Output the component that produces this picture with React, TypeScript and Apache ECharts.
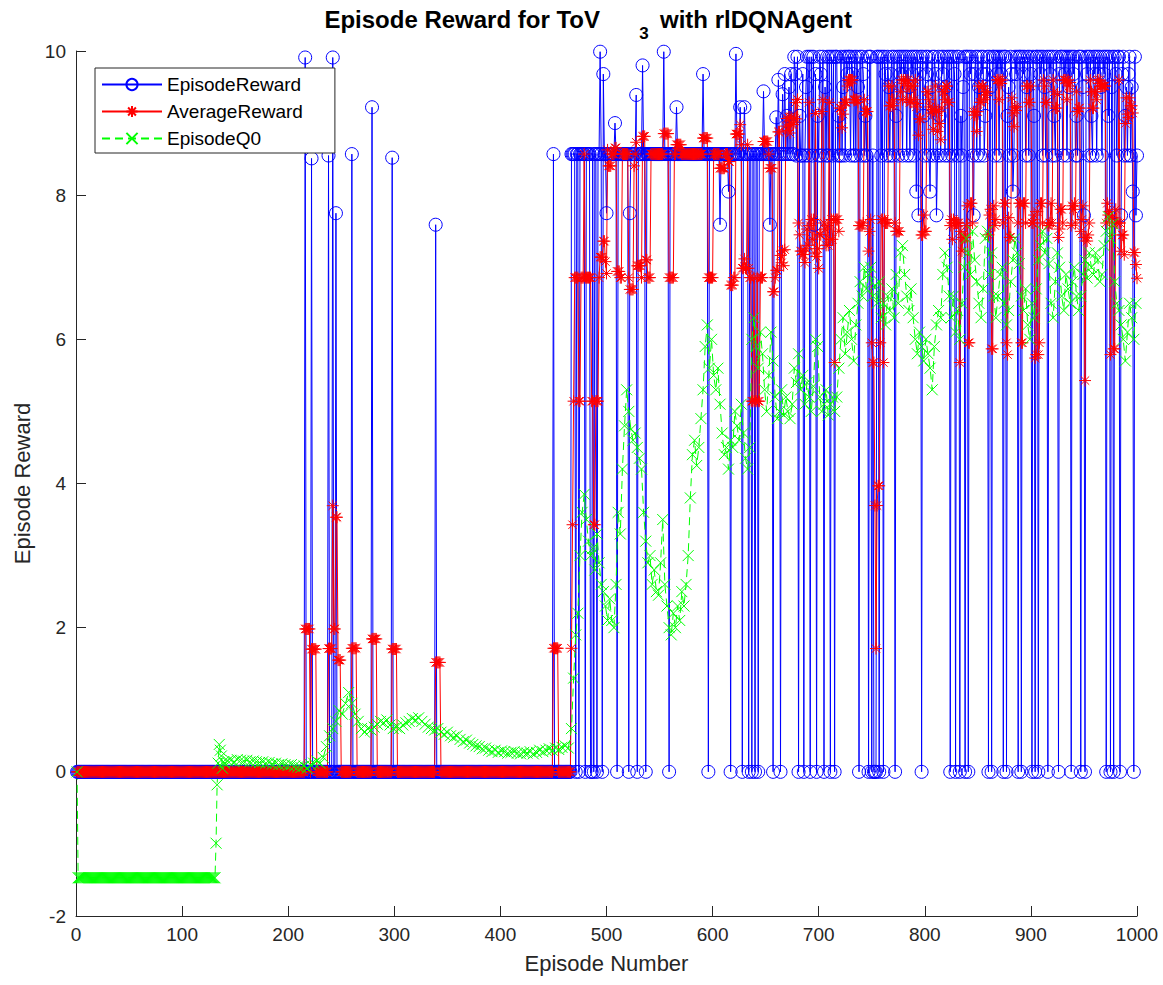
import React, { useEffect, useRef } from "react";
import * as echarts from "echarts";

const EPISODES = 1000;

// EpisodeReward held at one level over a range of episodes: [first, last, reward]
const rewardLevels: [number, number, number][] = [
  [1, 466, 0],
  [467, 676, 8.57],
  [677, 1000, 9.92],
];

// single episodes whose reward stands apart from the level around them
const rewardSpikes: [number, number][] = [
  [216, 9.91], [222, 8.51], [238, 8.55], [242, 9.91], [245, 7.75],
  [260, 8.57], [279, 9.22], [298, 8.52], [339, 7.59], [450, 8.57],
  [494, 9.99], [497, 9.68], [500, 7.75], [508, 9.0], [522, 7.75],
  [528, 9.39], [534, 9.8], [554, 9.99], [566, 9.22], [591, 9.68],
  [607, 7.59], [615, 8.05], [622, 9.96], [626, 9.22], [630, 9.22],
  [648, 9.44], [654, 7.59], [660, 9.08], [662, 9.6], [666, 9.4],
  [668, 9.68], [670, 9.1], [672, 9.5], [674, 9.68], [696, 7.59],
];

// episodes of the late phase grouped by the reward they reached
const reward855 = [
  679, 683, 684, 687, 690, 694, 700, 703, 707, 709, 713, 718, 720, 722, 725, 730, 733, 735,
  740, 743, 745, 751, 759, 764, 767, 770, 775, 779, 783, 786, 790, 800, 804, 808, 812, 815,
  819, 822, 826, 831, 835, 845, 849, 852, 856, 866, 870, 880, 884, 895, 898, 911, 914, 920,
  923, 930, 934, 942, 944, 955, 958, 962, 967, 981, 988, 991, 994, 1000,
];
const reward968 = [
  678, 685, 697, 702, 727, 732, 742, 763, 768, 777, 781, 788, 795, 802, 810, 817, 828, 843,
  847, 854, 858, 868, 872, 882, 886, 893, 900, 909, 918, 927, 932, 940, 953, 960, 964, 969,
  980, 986, 992,
];
const reward950 = [
  688, 706, 723, 737, 766, 785, 806, 820, 836, 851, 862, 879, 896, 913, 925, 936, 949, 966,
  976, 990, 995,
];
const reward910 = [682, 699, 719, 744, 773, 799, 814, 834, 857, 878, 903, 922, 943, 957, 973, 989];
const reward805 = [792, 805, 883, 996];
const reward772 = [794, 811, 846, 950, 985, 999];

// episodes that ended with zero reward once the agent had started to succeed
const failedEpisodes = [
  471, 474, 480, 485, 486, 488, 491, 496, 510, 521, 529, 537, 559, 596, 617, 628, 634, 637,
  640, 643, 657, 664, 681, 686, 692, 698, 705, 711, 715, 738, 747, 750, 752, 753, 754, 757,
  761, 772, 797, 824, 829, 833, 838, 841, 860, 863, 874, 877, 888, 891, 901, 904, 907, 916,
  926, 938, 947, 951, 971, 975, 978, 984, 997,
];

// AverageReward is the trailing mean over this many episodes
const AVERAGE_WINDOW = 5;

// EpisodeQ0 held at one level: [first, last, q0]
const q0Levels: [number, number, number][] = [[2, 131, -1.47]];
// EpisodeQ0 for single episodes around the first jump
const q0Points: [number, number][] = [
  [1, 0], [132, -0.99], [133, -0.18], [134, 0.12], [135, 0.38], [136, 0.3],
  [137, 0.22], [138, 0.05], [139, 0.14],
];
// EpisodeQ0 during the quiet phase, one value every 3 episodes from episode 140
const q0QuietStart = 140;
const q0QuietStep = 3;
const q0Quiet = [
  0.12, 0.15, 0.16, 0.14, 0.17, 0.16, 0.15, 0.16, 0.14, 0.15,
  0.14, 0.13, 0.14, 0.12, 0.13, 0.11, 0.12, 0.1, 0.11, 0.1,
  0.09, 0.1, 0.08, 0.07, 0.06, 0.08, 0.05, 0.1, 0.12, 0.15,
  0.12, 0.2, 0.35, 0.5, 0.6, 0.7, 0.85, 0.8, 0.95, 1.1,
  0.95, 0.8, 0.7, 0.6, 0.55, 0.6, 0.58, 0.62, 0.66, 0.7,
  0.68, 0.72, 0.65, 0.6, 0.62, 0.6, 0.65, 0.68, 0.7, 0.74,
  0.72, 0.75, 0.7, 0.66, 0.62, 0.6, 0.58, 0.6, 0.55, 0.52,
  0.55, 0.5, 0.48, 0.5, 0.45, 0.42, 0.44, 0.4, 0.38, 0.36,
  0.35, 0.32, 0.33, 0.3, 0.28, 0.3, 0.27, 0.29, 0.28, 0.26,
  0.27, 0.28, 0.26, 0.25, 0.27, 0.26, 0.28, 0.25, 0.27, 0.3,
  0.28, 0.3, 0.32, 0.3, 0.33, 0.31, 0.34, 0.36, 0.33,
];
// EpisodeQ0 while learning, one value every 2 episodes from episode 467
const q0LearnStart = 467;
const q0LearnStep = 2;
const q0Learn = [
  0.6, 1.3, 1.9, 2.2, 3.0, 3.6, 3.85, 3.5, 3.2, 3.0,
  3.1, 2.8, 3.3, 2.9, 2.6, 2.5, 2.3, 2.1, 2.4, 2.1,
  2.0, 2.6, 3.6, 3.3, 4.2, 4.8, 5.3, 5.0, 4.75, 4.6,
  4.7, 4.5, 4.35, 4.2, 3.6, 3.2, 2.9, 3.0, 2.6, 2.8,
  2.5, 2.45, 2.9, 3.5, 2.6, 2.3, 2.0, 1.9, 2.2, 2.0,
  2.3, 2.1, 2.5, 2.3, 2.6, 3.0, 3.8, 4.4, 4.6, 4.25,
  4.5, 4.9, 5.3, 5.9, 6.2, 5.6, 6.0, 5.5, 5.3, 5.6,
  5.1, 4.7, 4.4, 4.5, 4.2, 4.6, 4.5, 5.0, 4.8, 4.6,
  5.1, 4.7, 4.35, 4.2, 4.5, 6.0, 6.3, 5.9, 5.6, 6.1,
  5.8, 5.3, 5.0, 5.5, 6.1, 5.7, 5.2, 4.9, 5.0, 5.3,
  4.95, 5.2, 5.0, 4.9, 5.1, 5.6, 5.4, 5.8, 5.3, 5.5,
  5.1, 5.4, 5.2, 5.0, 5.35, 6.0, 5.9, 5.2, 5.0, 5.1,
  5.3, 4.95, 5.1, 5.2, 5.0, 5.2, 5.6, 6.0, 6.3, 5.8,
  6.1, 6.4, 6.0, 5.7, 6.2, 6.5, 6.8, 6.6, 7.0, 6.7,
  6.9, 7.0, 6.6, 6.75, 6.5, 6.8, 6.3, 6.5, 6.2, 6.6,
  6.4, 6.7, 6.3, 6.9, 6.5, 7.2, 7.3, 6.9, 6.6, 6.4,
  6.7, 6.3, 6.0, 5.8, 6.1, 5.9, 5.7, 6.0, 5.8, 5.6,
  5.3, 5.9, 6.2, 6.4, 6.3, 6.9, 7.2, 7.0, 6.6, 6.3,
  6.6, 6.1, 6.4, 6.0, 6.5, 7.0, 7.4, 7.2, 6.9, 7.5,
  7.1, 6.8, 6.5, 6.3, 6.7, 7.4, 7.5, 6.9, 7.2, 6.6,
  6.3, 6.6, 6.9, 7.0, 6.5, 6.2, 6.4, 6.8, 7.1, 7.4,
  7.2, 7.05, 6.6, 6.4, 6.7, 6.2, 6.0, 6.5, 6.3, 6.7,
  7.1, 7.3, 7.5, 7.2, 7.4, 7.05, 6.5, 6.3, 6.8, 7.2,
  7.0, 6.6, 6.4, 6.9, 6.7, 6.5, 6.8, 7.0, 6.6, 6.4,
  6.6, 6.9, 7.1, 6.85, 7.2, 7.0, 6.9, 7.2, 7.1, 6.8,
  6.9, 7.3, 7.5, 7.7, 7.4, 7.6, 6.8, 6.5, 6.4, 6.2,
  6.0, 5.7, 6.1, 6.5, 6.3, 6.0, 6.5,
];

const xTicks = { min: 0, max: 1000, interval: 100 };
const yTicks = { min: -2, max: 10, interval: 2 };

const BLUE = "#0000ff";
const RED = "#ff0000";
const GREEN = "#00ff00";
const INK = "#262626";
const FONT = '"Liberation Sans", Arial, Helvetica, sans-serif';

// MATLAB-style markers: asterisk (* = + and x) and cross (x)
const ASTERISK = "path://M5,0L5,10M0,5L10,5M1.5,1.5L8.5,8.5M8.5,1.5L1.5,8.5";
const CROSS = "path://M0,0L10,10M10,0L0,10";

function episodeRewards(): number[] {
  const r = new Array(EPISODES + 1).fill(0);
  for (const [a, b, v] of rewardLevels) for (let e = a; e <= b; e++) r[e] = v;
  for (const [e, v] of rewardSpikes) r[e] = v;
  const tiers: [number, number[]][] = [
    [8.55, reward855], [9.68, reward968], [9.5, reward950],
    [9.1, reward910], [8.05, reward805], [7.72, reward772],
  ];
  for (const [v, list] of tiers) for (const e of list) r[e] = v;
  for (const e of failedEpisodes) r[e] = 0;
  return r;
}

function q0Series(): [number, number][] {
  const pts = new Map<number, number>();
  for (const [a, b, v] of q0Levels) for (let e = a; e <= b; e++) pts.set(e, v);
  for (const [e, v] of q0Points) pts.set(e, v);
  q0Quiet.forEach((v, i) => pts.set(q0QuietStart + i * q0QuietStep, v));
  q0Learn.forEach((v, i) => pts.set(q0LearnStart + i * q0LearnStep, v));
  return [...pts.entries()].sort((p, q) => p[0] - q[0]);
}

export default function App() {
  const ref = useRef<HTMLDivElement>(null);

  useEffect(() => {
    if (!ref.current) return;
    const chart = echarts.init(ref.current, undefined, { renderer: "svg" });

    const r = episodeRewards();
    const rewardData: [number, number][] = [];
    const averageData: [number, number][] = [];
    for (let e = 1; e <= EPISODES; e++) {
      rewardData.push([e, r[e]]);
      const from = Math.max(1, e - AVERAGE_WINDOW + 1);
      let s = 0;
      for (let k = from; k <= e; k++) s += r[k];
      averageData.push([e, +(s / (e - from + 1)).toFixed(3)]);
    }

    const axisText = {
      color: INK,
      fontSize: 19,
      fontFamily: FONT,
      formatter: (v: number) => String(v),
    };
    const titleFont = `bold 24px ${FONT}`;

    chart.setOption({
      animation: false,
      backgroundColor: "#ffffff",
      grid: { left: 76, right: 26, top: 51, bottom: 69, containLabel: false },
      xAxis: {
        type: "value",
        ...xTicks,
        name: "Episode Number",
        nameLocation: "middle",
        nameGap: 36,
        nameTextStyle: { color: INK, fontSize: 22, fontFamily: FONT },
        axisLine: { show: true, onZero: false, lineStyle: { color: INK, width: 1 } },
        axisTick: { show: true, inside: true, length: 10, lineStyle: { color: INK } },
        axisLabel: { ...axisText, margin: 9 },
        splitLine: { show: false },
      },
      yAxis: {
        type: "value",
        ...yTicks,
        name: "Episode Reward",
        nameLocation: "middle",
        nameGap: 42,
        nameTextStyle: { color: INK, fontSize: 22, fontFamily: FONT },
        axisLine: { show: true, onZero: false, lineStyle: { color: INK, width: 1 } },
        axisTick: { show: true, inside: true, length: 10, lineStyle: { color: INK } },
        axisLabel: { ...axisText, margin: 10 },
        splitLine: { show: false },
      },
      legend: {
        orient: "vertical",
        left: 95,
        top: 68,
        itemWidth: 60,
        itemHeight: 14,
        itemGap: 8,
        padding: [7, 32, 5, 6],
        backgroundColor: "#ffffff",
        borderColor: INK,
        borderWidth: 1,
        textStyle: { color: "#000", fontSize: 19, fontFamily: FONT, lineHeight: 18 },
        data: ["EpisodeReward", "AverageReward", "EpisodeQ0"],
      },
      graphic: [
        {
          type: "text", x: 600, y: 19, silent: true,
          style: { text: "Episode Reward for ToV", textAlign: "right", textVerticalAlign: "middle", font: titleFont, fill: "#000" },
        },
        {
          type: "text", x: 644, y: 33, silent: true,
          style: { text: "3", textAlign: "center", textVerticalAlign: "middle", font: `bold 17px ${FONT}`, fill: "#000" },
        },
        {
          type: "text", x: 660, y: 19, silent: true,
          style: { text: "with rlDQNAgent", textAlign: "left", textVerticalAlign: "middle", font: titleFont, fill: "#000" },
        },
      ],
      series: [
        {
          name: "EpisodeReward",
          type: "line",
          data: rewardData,
          symbol: "circle",
          symbolSize: 13,
          showSymbol: true,
          lineStyle: { color: BLUE, width: 1 },
          itemStyle: { color: "rgba(0,0,0,0)", borderColor: BLUE, borderWidth: 1 },
        },
        {
          name: "AverageReward",
          type: "line",
          data: averageData,
          symbol: ASTERISK,
          symbolSize: 12,
          showSymbol: true,
          lineStyle: { color: RED, width: 1 },
          itemStyle: { color: RED, borderColor: RED, borderWidth: 1 },
        },
        {
          name: "EpisodeQ0",
          type: "line",
          data: q0Series(),
          symbol: CROSS,
          symbolSize: 11,
          showSymbol: true,
          lineStyle: { color: GREEN, width: 1, type: [8, 5] },
          itemStyle: { color: GREEN, borderColor: GREEN, borderWidth: 1 },
        },
      ],
    });

    return () => chart.dispose();
  }, []);

  return (
    <div
      ref={ref}
      style={{ position: "fixed", left: 0, top: 0, width: 1163, height: 985, background: "#fff" }}
    />
  );
}
